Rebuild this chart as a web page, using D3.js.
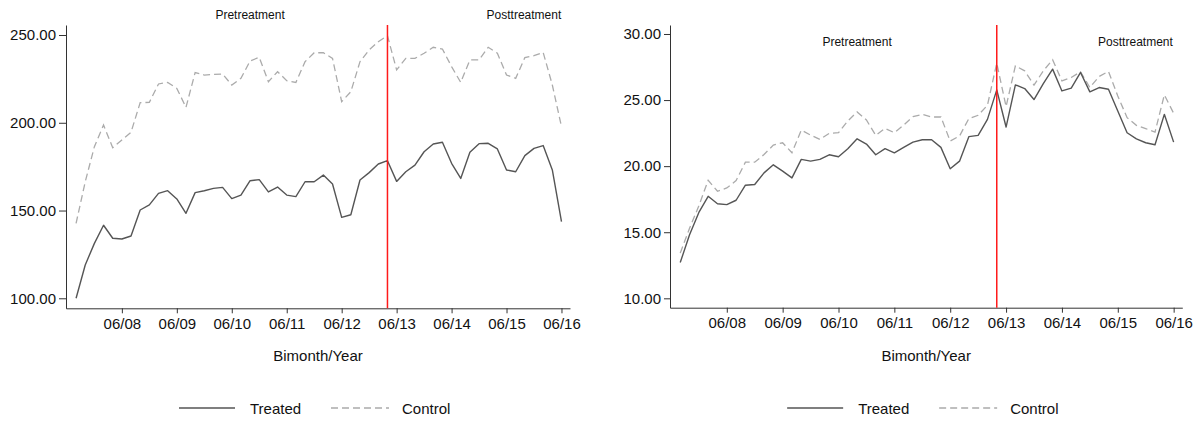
<!DOCTYPE html>
<html>
<head>
<meta charset="utf-8">
<script src="https://cdn.jsdelivr.net/npm/d3@7"></script>
<style>
  html, body { margin: 0; padding: 0; background: #fff; }
  svg { display: block; font-family: "Liberation Sans", Arial, Helvetica, sans-serif; }
</style>
</head>
<body>
<svg id="chart" width="1203" height="421"></svg>
<script>
// Bimonthly periods, Jul/Aug 2007 through May/Jun 2016 (labelled by the closing month)
const periods = d3.timeMonth.range(new Date(2007, 7, 1), new Date(2016, 7, 1), 2)
  .map(d3.timeFormat("%m/%y"));

const xTickLabels = ["06/08", "06/09", "06/10", "06/11", "06/12", "06/13", "06/14", "06/15", "06/16"];
const treatmentPeriod = "04/13";

// Left panel series
const leftTreated = [
  100.0, 119.0, 131.3, 141.6, 134.2, 133.8, 135.5, 150.3, 153.2, 159.8,
  161.3, 156.6, 148.4, 160.2, 161.3, 162.6, 163.2, 156.8, 158.8, 167.0,
  167.6, 160.6, 163.4, 158.8, 157.9, 166.4, 166.4, 170.2, 165.1, 146.1,
  147.6, 167.4, 171.6, 176.5, 178.4, 166.6, 172.1, 175.9, 183.5, 187.9,
  188.9, 176.9, 168.3, 183.2, 188.1, 188.3, 185.1, 173.1, 172.1, 181.3,
  185.4, 187.0, 173.1, 143.7
];
const leftControl = [
  142.7, 166.4, 186.4, 198.7, 185.8, 190.2, 194.6, 211.5, 211.6, 222.1,
  223.0, 219.6, 208.8, 228.6, 227.2, 227.6, 227.8, 221.5, 225.3, 235.2,
  237.3, 223.4, 229.1, 224.0, 223.0, 234.8, 239.9, 239.9, 236.7, 212.0,
  217.7, 234.8, 241.5, 246.2, 249.6, 230.1, 236.7, 236.7, 239.6, 243.0,
  242.0, 232.0, 223.0, 235.8, 235.8, 243.0, 239.6, 227.2, 225.3, 237.1,
  238.2, 240.1, 221.5, 197.8
];
const leftYTicks = [100, 150, 200, 250];

// Right panel series
const rightTreated = [
  12.71, 14.81, 16.50, 17.72, 17.16, 17.09, 17.42, 18.56, 18.61, 19.49,
  20.10, 19.62, 19.11, 20.51, 20.38, 20.51, 20.86, 20.71, 21.32, 22.07,
  21.67, 20.86, 21.32, 21.01, 21.42, 21.82, 22.00, 22.00, 21.42, 19.80,
  20.38, 22.23, 22.33, 23.54, 25.77, 22.96, 26.15, 25.87, 25.04, 26.25,
  27.34, 25.69, 25.90, 27.09, 25.62, 25.95, 25.82, 24.17, 22.53, 22.07,
  21.77, 21.62, 23.92, 21.82
];
const rightControl = [
  13.42, 15.30, 17.00, 18.93, 18.10, 18.35, 18.91, 20.30, 20.30, 20.88,
  21.59, 21.77, 21.01, 22.73, 22.35, 22.02, 22.48, 22.53, 23.42, 24.10,
  23.49, 22.33, 22.86, 22.53, 23.11, 23.75, 23.92, 23.72, 23.72, 21.90,
  22.28, 23.60, 23.85, 24.61, 27.80, 24.51, 27.59, 27.21, 26.13, 27.21,
  28.05, 26.45, 26.71, 27.14, 25.95, 26.79, 27.17, 25.31, 23.67, 23.09,
  22.84, 22.58, 25.39, 24.00
];
const rightYTicks = [10, 15, 20, 25, 30];

const seriesNames = ["Treated", "Control"];
const phaseLabels = ["Pretreatment", "Posttreatment"];

// Layout and styling
const svg = d3.select("#chart");
const FONT = 15;
const treatedColor = "#555555";
const controlColor = "#ababab";
const axisColor = "#333333";

const panels = [
  { treated: leftTreated, control: leftControl, yTicks: leftYTicks,
    yDomain: [94.3, 255.7], xRange: [66, 570], yRange: [308.3, 25],
    yTickSize: 7, labelY: 18.6 },
  { treated: rightTreated, control: rightControl, yTicks: rightYTicks,
    yDomain: [9.29, 30.68], xRange: [670, 1182.3], yRange: [307.7, 25],
    yTickSize: 6, labelY: 46 }
];

panels.forEach(p => {
  const g = svg.append("g");
  const x = d3.scaleLinear().domain([-1.1, 53.93]).range(p.xRange);
  const y = d3.scaleLinear().domain(p.yDomain).range(p.yRange);

  // y axis
  const yAxis = d3.axisLeft(y)
    .tickValues(p.yTicks)
    .tickFormat(d3.format(".2f"))
    .tickSize(p.yTickSize)
    .tickSizeOuter(0)
    .tickPadding(3);
  const ya = g.append("g")
    .attr("transform", `translate(${p.xRange[0]},0)`)
    .call(yAxis);
  ya.select(".domain").attr("stroke", axisColor);
  ya.selectAll(".tick line").attr("stroke", axisColor);
  ya.selectAll("text").attr("font-size", FONT).attr("fill", "#111")
    .attr("font-family", "Liberation Sans, Arial, sans-serif");

  // x axis
  const xTickValues = xTickLabels.map(l => periods.indexOf(l));
  const xAxis = d3.axisBottom(x)
    .tickValues(xTickValues)
    .tickFormat(i => periods[i])
    .tickSize(5)
    .tickSizeOuter(0)
    .tickPadding(5);
  const xa = g.append("g")
    .attr("transform", `translate(0,${p.yRange[0]})`)
    .call(xAxis);
  xa.select(".domain").attr("stroke", axisColor);
  xa.selectAll(".tick line").attr("stroke", axisColor);
  xa.selectAll("text").attr("font-size", FONT).attr("fill", "#111")
    .attr("font-family", "Liberation Sans, Arial, sans-serif");

  // axis title
  const xMid = (p.xRange[0] + p.xRange[1]) / 2;
  g.append("text")
    .attr("x", xMid).attr("y", 361)
    .attr("text-anchor", "middle")
    .attr("font-size", FONT).attr("fill", "#111")
    .text("Bimonth/Year");

  // series lines
  const line = d3.line()
    .x((d, i) => x(i))
    .y(d => y(d));

  g.append("path")
    .datum(p.control)
    .attr("fill", "none")
    .attr("stroke", controlColor)
    .attr("stroke-width", 1.3)
    .attr("stroke-dasharray", "7,4")
    .attr("d", line);

  g.append("path")
    .datum(p.treated)
    .attr("fill", "none")
    .attr("stroke", treatedColor)
    .attr("stroke-width", 1.4)
    .attr("stroke-linejoin", "round")
    .attr("d", line);

  // treatment start marker
  const tx = x(periods.indexOf(treatmentPeriod));
  g.append("line")
    .attr("x1", tx).attr("x2", tx)
    .attr("y1", p.yRange[1]).attr("y2", p.yRange[0])
    .attr("stroke", "#ff1a1a")
    .attr("stroke-width", 1.5);

  // phase labels
  [19, 48.9].forEach((pos, k) => {
    g.append("text")
      .attr("x", x(pos)).attr("y", p.labelY)
      .attr("text-anchor", "middle")
      .attr("font-size", 12).attr("fill", "#111")
      .text(phaseLabels[k]);
  });

  // legend
  const legendY = 408;
  const lg = g.append("g").attr("transform", `translate(${xMid},${legendY})`);
  lg.append("line")
    .attr("x1", -139).attr("x2", -83).attr("y1", 0).attr("y2", 0)
    .attr("stroke", treatedColor).attr("stroke-width", 1.4);
  lg.append("text")
    .attr("x", -68).attr("y", 5.5)
    .attr("font-size", FONT).attr("fill", "#111")
    .text(seriesNames[0]);
  lg.append("line")
    .attr("x1", 13).attr("x2", 71).attr("y1", 0).attr("y2", 0)
    .attr("stroke", controlColor).attr("stroke-width", 1.3)
    .attr("stroke-dasharray", "7,4");
  lg.append("text")
    .attr("x", 84).attr("y", 5.5)
    .attr("font-size", FONT).attr("fill", "#111")
    .text(seriesNames[1]);
});
</script>
</body>
</html>
